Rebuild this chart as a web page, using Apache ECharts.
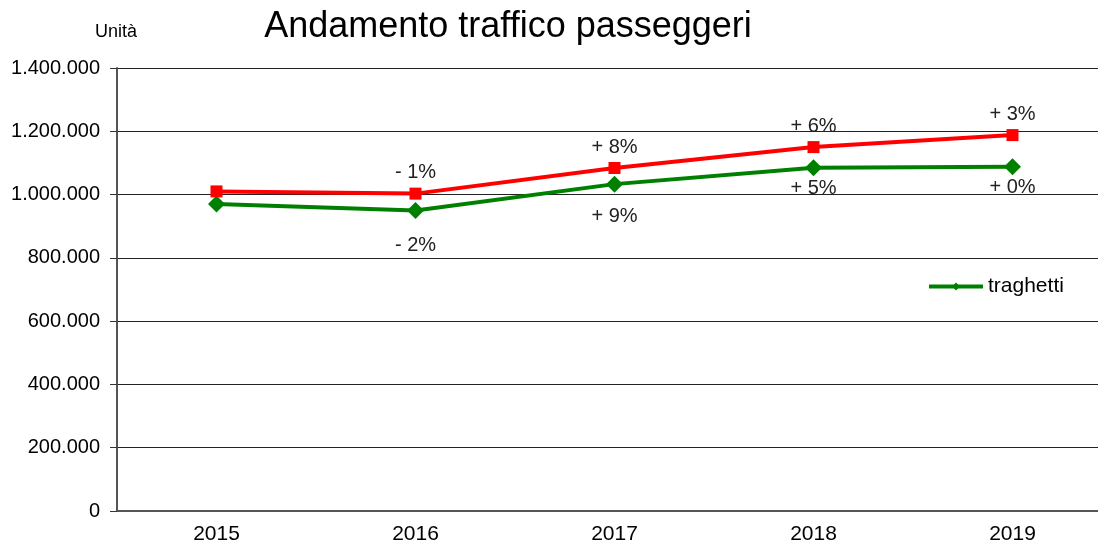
<!DOCTYPE html>
<html>
<head>
<meta charset="utf-8">
<script src="https://cdn.jsdelivr.net/npm/echarts@6/dist/echarts.min.js"></script>
<style>
  html, body { margin: 0; padding: 0; background: #fff; }
  #chart { width: 1098px; height: 552px; }
</style>
</head>
<body>
<div id="chart"></div>
<script>
var years = ["2015", "2016", "2017", "2018", "2019"];
var totale = [1010000, 1003000, 1084000, 1150000, 1188000];
var traghetti = [970000, 950000, 1033000, 1085000, 1088000];
var totaleLabels = ["", "- 1%", "+ 8%", "+ 6%", "+ 3%"];
var traghettiLabels = ["", "- 2%", "+ 9%", "+ 5%", "+ 0%"];
var traghettiGap = [0, 17, 14, 2, 2];

var font = "Liberation Sans, Arial, sans-serif";

function dotted(v) {
  return String(v).replace(/\B(?=(\d{3})+(?!\d))/g, ".");
}

var chart = echarts.init(document.getElementById("chart"));
var option = {
  animation: false,
  textStyle: { fontFamily: font },
  title: [
    {
      text: "Andamento traffico passeggeri",
      left: 503, top: 4, textAlign: "center",
      textStyle: { fontSize: 36, fontWeight: "normal", color: "#000", fontFamily: font }
    },
    {
      text: "Unità",
      left: 90, top: 18,
      textStyle: { fontSize: 18, fontWeight: "normal", color: "#000", fontFamily: font }
    }
  ],
  legend: {
    data: ["traghetti"],
    left: 927, top: 276, padding: 0,
    itemWidth: 54, itemHeight: 10, itemGap: 4,
    lineStyle: { width: 4 },
    textStyle: { fontSize: 21, color: "#000", fontFamily: font }
  },
  grid: { left: 117, width: 995, top: 68, bottom: 41, outerBoundsMode: "none" },
  xAxis: {
    type: "category",
    data: years,
    axisLine: { lineStyle: { color: "#555", width: 2 } },
    axisTick: { length: 7, lineStyle: { color: "#333" } },
    axisLabel: { fontSize: 21, color: "#000", margin: 13, fontFamily: font }
  },
  yAxis: {
    type: "value",
    min: 0, max: 1400000, interval: 200000,
    axisLine: { show: true, lineStyle: { color: "#555", width: 2 } },
    axisTick: { show: true, length: 7, lineStyle: { color: "#333" } },
    splitLine: { lineStyle: { color: "#222", width: 1 } },
    axisLabel: { fontSize: 20, color: "#000", margin: 17, formatter: dotted, fontFamily: font }
  },
  series: [
    {
      name: "totale",
      type: "line",
      data: totale.map(function (v, i) {
        return { value: v, label: { formatter: totaleLabels[i] } };
      }),
      symbol: "rect", symbolSize: 12,
      lineStyle: { color: "#ff0000", width: 4 },
      itemStyle: { color: "#ff0000" },
      label: { show: true, position: "top", distance: 5, fontSize: 20, color: "#222" },
      z: 3
    },
    {
      name: "traghetti",
      type: "line",
      data: traghetti.map(function (v, i) {
        return { value: v, label: { formatter: traghettiLabels[i], distance: traghettiGap[i] } };
      }),
      symbol: "diamond", symbolSize: 17,
      lineStyle: { color: "#008000", width: 4 },
      itemStyle: { color: "#008000" },
      label: { show: true, position: "bottom", fontSize: 20, color: "#222" },
      z: 2
    }
  ]
};
chart.setOption(option);
</script>
</body>
</html>
